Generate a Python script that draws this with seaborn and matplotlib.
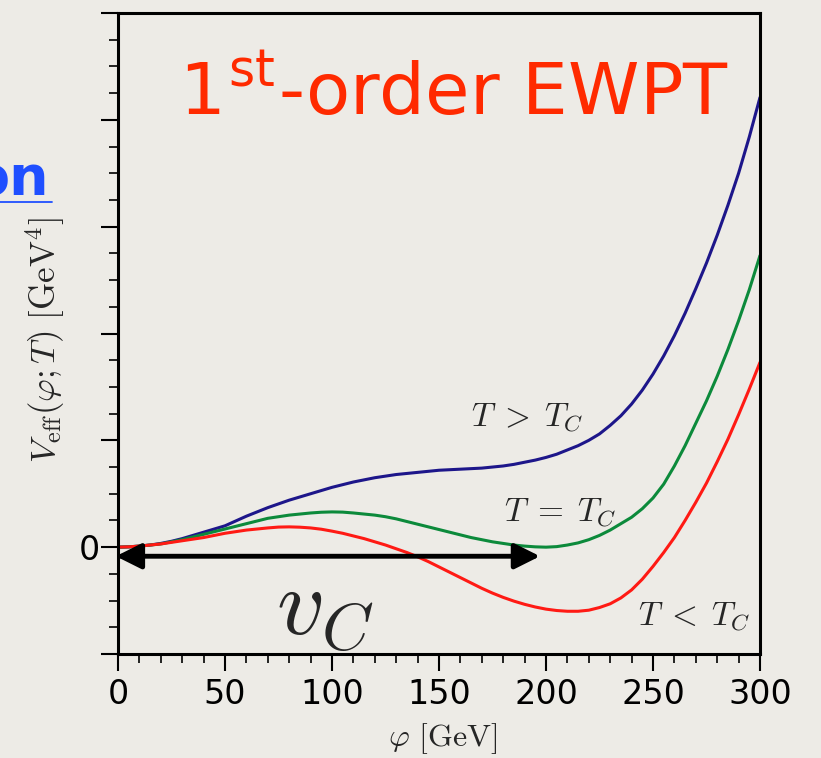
import pandas as pd
import matplotlib
matplotlib.use("Agg")
import matplotlib.pyplot as plt
import seaborn as sns
from matplotlib.ticker import MultipleLocator, FuncFormatter
from matplotlib.lines import Line2D

# field value phi [GeV], read every 5 GeV
phi = list(range(0, 301, 5))

# V_eff (units of one major y tick)
v_above = [0, 0.003, 0.01, 0.02, 0.035, 0.055, 0.08, 0.11, 0.14, 0.17,
           0.20, 0.245, 0.29, 0.33, 0.37, 0.405, 0.44, 0.47, 0.50, 0.53,
           0.56, 0.585, 0.61, 0.63, 0.65, 0.665, 0.68, 0.69, 0.70, 0.71,
           0.72, 0.725, 0.73, 0.735, 0.74, 0.75, 0.76, 0.775, 0.795, 0.815,
           0.84, 0.87, 0.91, 0.95, 1.00, 1.06, 1.14, 1.23, 1.34, 1.47,
           1.62, 1.79, 1.98, 2.19, 2.42, 2.66, 2.92, 3.20, 3.50, 3.84, 4.21]
v_critical = [0, 0.003, 0.01, 0.02, 0.03, 0.05, 0.07, 0.095, 0.12, 0.145,
              0.17, 0.195, 0.22, 0.245, 0.27, 0.285, 0.30, 0.31, 0.32, 0.327,
              0.33, 0.328, 0.32, 0.31, 0.30, 0.285, 0.265, 0.24, 0.215, 0.19,
              0.165, 0.14, 0.115, 0.09, 0.07, 0.05, 0.035, 0.02, 0.01, 0.003,
              0.0, 0.005, 0.02, 0.04, 0.07, 0.11, 0.16, 0.22, 0.28, 0.36,
              0.46, 0.59, 0.76, 0.95, 1.16, 1.37, 1.60, 1.85, 2.12, 2.41, 2.73]
v_below = [0, 0.003, 0.01, 0.02, 0.03, 0.045, 0.06, 0.075, 0.09, 0.11,
           0.13, 0.145, 0.16, 0.17, 0.18, 0.188, 0.19, 0.187, 0.18, 0.168,
           0.15, 0.13, 0.105, 0.08, 0.05, 0.02, -0.015, -0.05, -0.09, -0.135,
           -0.185, -0.235, -0.285, -0.335, -0.385, -0.43, -0.47, -0.505, -0.535, -0.56,
           -0.58, -0.593, -0.60, -0.60, -0.59, -0.565, -0.53, -0.475, -0.40, -0.30,
           -0.18, -0.05, 0.09, 0.25, 0.42, 0.60, 0.80, 1.01, 1.24, 1.48, 1.73]

curve_names = ["above", "critical", "below"]
curve_colors = ["#1d168a", "#0c8a3b", "#ff1a14"]
curve_labels = [r"$T\;>\;T_C$", r"$T\;=\;T_C$", r"$T\;<\;T_C$"]
label_pos = [(191, 1.14), (206.8, 0.25), (269.2, -0.73)]

x_ticks = [0, 50, 100, 150, 200, 250, 300]
v_c = 198.5

df = pd.DataFrame({
    "phi": phi * 3,
    "V": v_above + v_critical + v_below,
    "curve": [n for n in curve_names for _ in phi],
})

bg = "#edebe6"
sns.set_theme(style="ticks")
plt.rcParams["font.family"] = ["DejaVu Sans"]
plt.rcParams["mathtext.fontset"] = "cm"

fig = plt.figure(figsize=(8.21, 7.58), dpi=100, facecolor=bg)
ax = fig.add_axes([118 / 821, 104 / 758, 642 / 821, 641 / 758])
ax.set_facecolor(bg)

sns.lineplot(data=df, x="phi", y="V", hue="curve", hue_order=curve_names,
             palette=dict(zip(curve_names, curve_colors)), linewidth=2.2,
             legend=False, ax=ax)

ax.set_xlim(0, 300)
ax.set_ylim(-1, 5)
ax.set_xticks(x_ticks)
ax.xaxis.set_minor_locator(MultipleLocator(10))
ax.yaxis.set_major_locator(MultipleLocator(1))
ax.yaxis.set_minor_locator(MultipleLocator(0.25))
ax.yaxis.set_major_formatter(FuncFormatter(lambda v, _: "0" if abs(v) < 1e-9 else ""))

for s in ax.spines.values():
    s.set_linewidth(2.2)
    s.set_color("black")
ax.tick_params(which="major", direction="out", length=12, width=1.5,
               labelsize=24, colors="black")
ax.tick_params(axis="x", which="major", pad=5)
ax.tick_params(axis="y", which="major", pad=1)
ax.tick_params(which="minor", direction="out", length=6.5, width=1.2, colors="black")

ax.set_xlabel(r"$\varphi\ [{\rm GeV}]$", fontsize=23)
ax.set_ylabel(r"$V_{\rm eff}(\varphi;T)\ [{\rm GeV}^4]$", fontsize=25)
ax.xaxis.set_label_coords(0.505, -0.105)
ax.yaxis.set_label_coords(-0.079, 0.49)

for lab, (x, y) in zip(curve_labels, label_pos):
    ax.text(x, y, lab, fontsize=24, ha="center", va="baseline")

# double arrow for v_C
ax.annotate("", xy=(-2.3, -0.085), xytext=(v_c, -0.085),
            arrowprops=dict(arrowstyle="<|-|>,head_length=0.7,head_width=0.35",
                            color="black", lw=3.5, mutation_scale=22),
            annotation_clip=False)
ax.text(96.7, -0.57, r"$v_C$", fontsize=68, ha="center", va="center")

ax.text(0.523, 0.841, r"1$^{\mathregular{st}}$-order EWPT", transform=ax.transAxes,
        fontsize=52, color="#ff2a00", ha="center", va="baseline")

# cut-off slide heading at the left edge
fig.text(49 / 821, 1 - 195 / 758, "on", fontsize=40, fontweight="bold",
         color="#1f4fff", ha="right", va="baseline")
fig.add_artist(Line2D([0, 52 / 821], [1 - 202 / 758, 1 - 202 / 758],
                      color="#1f4fff", lw=1.3))

fig.savefig("out.png", dpi=100, facecolor=bg)
